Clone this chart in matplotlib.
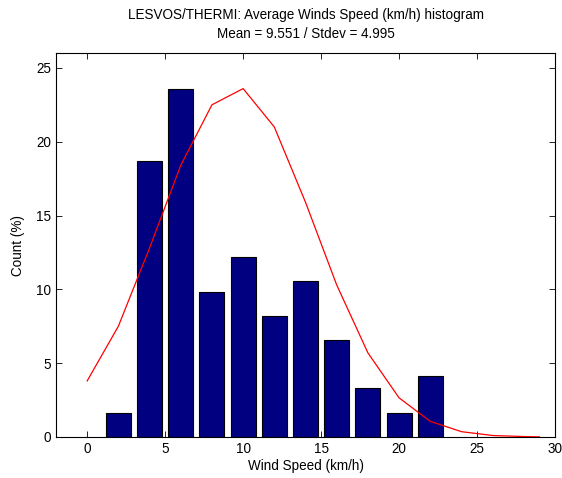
import numpy as np
import matplotlib
matplotlib.use('Agg')
import matplotlib.pyplot as plt

# histogram bins (km/h) and share of observations (%)
bin_centers = [2, 4, 6, 8, 10, 12, 14, 16, 18, 20, 22]
counts_pct = [1.65, 18.7, 23.6, 9.8, 12.2, 8.2, 10.6, 6.6, 3.3, 1.65, 4.1]

# fitted normal curve
fit_x = [0, 2, 4, 6, 8, 10, 12, 14, 16, 18, 20, 22, 24, 26, 28, 29]
fit_y = [3.8, 7.5, 12.8, 18.4, 22.5, 23.6, 21.0, 15.9, 10.3, 5.7, 2.65, 1.06, 0.36, 0.1, 0.03, 0.01]

title_ = 'LESVOS/THERMI: Average Winds Speed (km/h) histogram\nMean = 9.551 / Stdev = 4.995'
fontsize_ = 9.75

plt.rcParams['font.family'] = ['Liberation Sans', 'DejaVu Sans']

fig = plt.figure(figsize=(5.62, 4.78), dpi=100)
ax = fig.add_axes([0.0996, 0.0858, 0.888, 0.803])

ax.bar(bin_centers, counts_pct, width=1.6, color='#000080', edgecolor='black', linewidth=0.8, zorder=2)
ax.plot(fit_x, fit_y, color='red', linewidth=0.9, zorder=3)

ax.set_xlim(-2, 30)
ax.set_ylim(0, 26)
ax.set_xticks([0, 5, 10, 15, 20, 25, 30])
ax.set_yticks([0, 5, 10, 15, 20, 25])
ax.tick_params(direction='in', top=True, right=True, labelsize=fontsize_, length=4, width=0.6)
for s in ax.spines.values():
    s.set_linewidth(0.8)

ax.set_xlabel('Wind Speed (km/h)', fontsize=fontsize_, labelpad=2)
ax.set_ylabel('Count (%)', fontsize=fontsize_, labelpad=8)
ax.set_title(title_, fontsize=fontsize_, linespacing=1.4, pad=11)

plt.savefig('out.png', dpi=100)
plt.close()
